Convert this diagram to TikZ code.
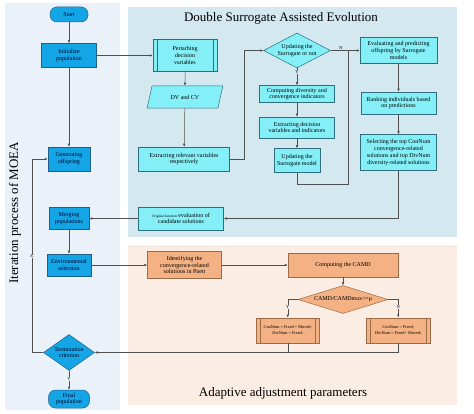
\documentclass[tikz,border=0pt]{standalone}
\usepackage{fontspec}
\setmainfont{Liberation Serif}
\usetikzlibrary{arrows.meta,positioning,shapes.geometric}

\definecolor{leftbg}{HTML}{EAF1F8}
\definecolor{dsebg}{HTML}{D3E8EF}
\definecolor{aapbg}{HTML}{FCEDE4}
\definecolor{moeafill}{HTML}{14A5E6}
\definecolor{moeadraw}{HTML}{1F5F8B}
\definecolor{dsefill}{HTML}{84EFF7}
\definecolor{dsedraw}{HTML}{2E6E7E}
\definecolor{aapfill}{HTML}{F4B183}
\definecolor{aapdraw}{HTML}{9C6A45}
\definecolor{linecol}{HTML}{505050}

\begin{document}
\begin{tikzpicture}[
  x=1pt, y=-1pt,
  node distance=10pt,
  base/.style={draw, align=center, inner sep=1pt, font=\fontsize{6}{6.8}\selectfont, line width=0.5pt},
  moea/.style={base, fill=moeafill, draw=moeadraw, text=black!85!blue},
  dse/.style={base, fill=dsefill, draw=dsedraw},
  aap/.style={base, fill=aapfill, draw=aapdraw},
  termbox/.style={rounded corners=7pt},
  subproc/.style={path picture={
    \draw[#1, line width=0.5pt]
      ([xshift=4pt]path picture bounding box.north west) -- ([xshift=4pt]path picture bounding box.south west)
      ([xshift=-4pt]path picture bounding box.north east) -- ([xshift=-4pt]path picture bounding box.south east);}},
  chk/.style={diamond, inner sep=0pt},
  io/.style={trapezium, trapezium left angle=70, trapezium right angle=110, trapezium stretches=true},
  arr/.style={-{Latex[length=3pt,width=2.6pt]}, line width=0.5pt, draw=linecol},
  line/.style={line width=0.5pt, draw=linecol},
  lbl/.style={font=\fontsize{4.5}{4.5}\selectfont, inner sep=0.5pt},
  ttl/.style={font=\fontsize{13}{15}\selectfont}
]
\useasboundingbox (0,0) rectangle (474,414);

% panels
\fill[leftbg] (5,3) rectangle (120,410);
\fill[dsebg] (128,7) rectangle (457,237);
\fill[aapbg] (128,245) rectangle (457,405);

\node[ttl] (dsetitle) at (281,18) {Double Surrogate Assisted Evolution};
\node[ttl] (aaptitle) at (283,393) {Adaptive adjustment parameters};
\node[ttl, rotate=90] (moeatitle) at (15,213) {Iteration process of MOEA};

% iteration process of MOEA
\node[moea, termbox, minimum width=38pt, minimum height=15pt] (start) at (69,14.5) {Start};
\node[moea, minimum width=55pt, minimum height=24pt, below=21pt of start] (init) {Initialize\\population};
\node[moea, minimum width=42pt, minimum height=24pt, below=79pt of init] (gen) {Generating\\offspring};
\node[moea, minimum width=40pt, minimum height=22pt, below=36pt of gen] (merge) {Merging\\populations};
\node[moea, minimum width=44pt, minimum height=22pt, below=24pt of merge] (envsel) {Environmental\\selection};
\node[moea, chk, aspect=1.45, minimum width=51pt, minimum height=36pt, below=58pt of envsel] (term) {Termination\\criterion};
\node[moea, termbox, minimum width=41pt, minimum height=18pt, below=19pt of term] (final) {Final\\population};

% double surrogate assisted evolution
\node[dse, subproc=dsedraw, minimum width=64pt, minimum height=32pt, right=56pt of init] (perturb) {Pertarbing\\decision\\variables};
\node[dse, io, minimum width=76pt, minimum height=22pt, below=14pt of perturb] (dvcv) {DV and CV};
\node[dse, minimum width=91pt, minimum height=24pt, right=48pt of gen] (extract) {Extracting relevant variables\\respectively};
\node[dse, minimum width=85pt, minimum height=23pt, right=49pt of merge] (origeval) {{\fontsize{3.6}{4}\selectfont Original function} evaluation of\\candidate solutions};

\node[dse, chk, aspect=2, minimum width=67pt, minimum height=35pt, right=46pt of perturb, yshift=5pt] (upd) {Updating the\\Surrogate or not};
\node[dse, minimum width=75pt, minimum height=17pt, below=17pt of upd] (compdiv) {Computing diversity and\\convergence indicators};
\node[dse, minimum width=75pt, minimum height=21pt, below=14pt of compdiv] (extdec) {Extracting decision\\variables and indicators};
\node[dse, minimum width=46pt, minimum height=24pt, below=10pt of extdec] (updmodel) {Updating the\\Surrogate model};
\coordinate[right=17pt of upd.east] (njoin);

\node[dse, minimum width=77pt, minimum height=26pt, right=29pt of upd] (evalpred) {Evaluating and predicting\\offspring by Surrogate\\models};
\node[dse, minimum width=75pt, minimum height=22pt, below=28pt of evalpred] (rank) {Ranking individuals based\\on predictions};
\node[dse, minimum width=76pt, minimum height=36pt, below=20pt of rank] (select) {Selecting the top ConNum\\convergence-related\\solutions and top DivNum\\diversity-related solutions};

% adaptive adjustment parameters
\node[aap, minimum width=74pt, minimum height=27pt, right=56pt of envsel] (ident) {Identifying the\\convergence-related\\solutions in Pnett};
\node[aap, minimum width=110pt, minimum height=24pt, right=66pt of ident] (camd) {Computing the CAMD};
\node[aap, chk, aspect=3, minimum width=90pt, minimum height=28pt, below=8pt of camd] (camdchk) {CAMD/CAMDmax<=μ};
\node[aap, subproc=aapdraw, font=\fontsize{4.3}{5.5}\selectfont, minimum width=63pt, minimum height=25pt, below=18pt of camdchk.west, xshift=-10pt] (leftcase) {ConNum = Fixed + Moved;\\DivNum = Fixed;};
\node[aap, subproc=aapdraw, font=\fontsize{4.3}{5.5}\selectfont, minimum width=64pt, minimum height=25pt, below=18pt of camdchk.east, xshift=10pt] (rightcase) {ConNum = Fixed;\\DivNum = Fixed+ Moved;};

% connectors
\draw[arr] (start) -- (init);
\draw[arr] (init) -- (gen);
\draw[arr] (init) -- (perturb);
\draw[arr] (perturb) -- (dvcv);
\draw[arr] (dvcv) -- (extract);
\draw[arr] (extract.east) -- ++(14pt,0) |- (upd.west);
\draw[arr] (upd) -- node[lbl, pos=0.2, fill=dsebg] {Y} (compdiv);
\draw[arr] (compdiv) -- (extdec);
\draw[arr] (extdec) -- (updmodel);
\draw[arr] (upd.east) -- node[lbl, pos=0.35, above] {N} (evalpred.west);
\draw[line] (updmodel.south) -- ++(0,-12pt) -| (njoin);
\draw[arr] (evalpred) -- (rank);
\draw[arr] (rank) -- (select);
\draw[arr] (select.south) |- (origeval.east);
\draw[arr] (origeval) -- (merge);
\draw[arr] (merge) -- (envsel);
\draw[arr] (envsel) -- (ident);
\draw[arr] (ident) -- (camd);
\draw[arr] (camd) -- (camdchk);
\draw[arr] (camdchk.west) -| node[lbl, pos=0.7, fill=aapbg] {Y} (leftcase.north);
\draw[arr] (camdchk.east) -| node[lbl, pos=0.7, fill=aapbg] {N} (rightcase.north);
\draw[line] (rightcase.south) |- (leftcase.south |- term.east);
\draw[arr] (leftcase.south) |- (term.east);
\draw[arr] (term) -- node[lbl, pos=0.45, fill=leftbg] {Y} (final);
\draw[arr] (term.west) -- ++(-11pt,0) |- node[lbl, pos=0.25, rotate=90, fill=leftbg] {N} (gen.west);
\end{tikzpicture}
\end{document}
